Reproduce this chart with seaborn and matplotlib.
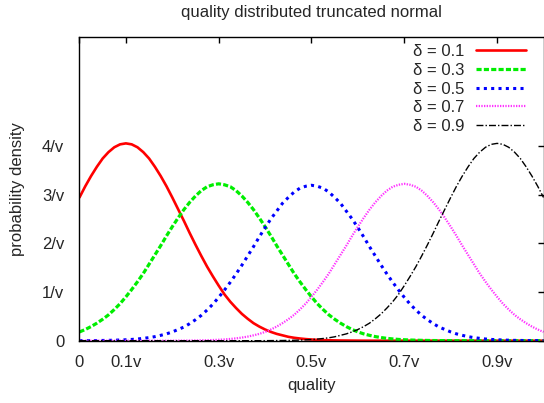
import numpy as np
import pandas as pd
import matplotlib
matplotlib.use('Agg')
import matplotlib.pyplot as plt
import seaborn as sns

# quality grid (fraction of v) and densities
quality = [0.0000, 0.0125, 0.0250, 0.0375, 0.0500, 0.0625, 0.0750, 0.0875, 0.1000,
           0.1125, 0.1250, 0.1375, 0.1500, 0.1625, 0.1750, 0.1875, 0.2000,
           0.2125, 0.2250, 0.2375, 0.2500, 0.2625, 0.2750, 0.2875, 0.3000,
           0.3125, 0.3250, 0.3375, 0.3500, 0.3625, 0.3750, 0.3875, 0.4000,
           0.4125, 0.4250, 0.4375, 0.4500, 0.4625, 0.4750, 0.4875, 0.5000,
           0.5125, 0.5250, 0.5375, 0.5500, 0.5625, 0.5750, 0.5875, 0.6000,
           0.6125, 0.6250, 0.6375, 0.6500, 0.6625, 0.6750, 0.6875, 0.7000,
           0.7125, 0.7250, 0.7375, 0.7500, 0.7625, 0.7750, 0.7875, 0.8000,
           0.8125, 0.8250, 0.8375, 0.8500, 0.8625, 0.8750, 0.8875, 0.9000,
           0.9125, 0.9250, 0.9375, 0.9500, 0.9625, 0.9750, 0.9875, 1.0000]

dens_01 = [2.94, 3.17, 3.38, 3.57, 3.74, 3.87, 3.97, 4.03, 4.05,
           4.03, 3.97, 3.87, 3.74, 3.57, 3.38, 3.17, 2.94,
           2.70, 2.46, 2.21, 1.97, 1.74, 1.52, 1.32, 1.13,
           0.95, 0.80, 0.67, 0.55, 0.45, 0.36, 0.29, 0.23,
           0.18, 0.14, 0.11, 0.080, 0.060, 0.045, 0.033, 0.024,
           0.017, 0.012, 0.009, 0.006, 0.004, 0.003, 0.002, 0.001,
           0, 0, 0, 0, 0, 0, 0, 0,
           0, 0, 0, 0, 0, 0, 0, 0,
           0, 0, 0, 0, 0, 0, 0, 0,
           0, 0, 0, 0, 0, 0, 0, 0]
dens_03 = [0.18, 0.23, 0.29, 0.36, 0.44, 0.53, 0.64, 0.76, 0.90,
           1.05, 1.21, 1.38, 1.57, 1.76, 1.95, 2.15, 2.34,
           2.52, 2.69, 2.84, 2.97, 3.08, 3.16, 3.20, 3.22,
           3.20, 3.16, 3.08, 2.97, 2.84, 2.69, 2.52, 2.34,
           2.15, 1.95, 1.76, 1.57, 1.38, 1.21, 1.05, 0.90,
           0.76, 0.64, 0.53, 0.44, 0.36, 0.29, 0.23, 0.18,
           0.14, 0.11, 0.084, 0.064, 0.048, 0.036, 0.026, 0.019,
           0.014, 0.010, 0.007, 0.005, 0.003, 0.002, 0.002, 0.001,
           0, 0, 0, 0, 0, 0, 0, 0,
           0, 0, 0, 0, 0, 0, 0, 0]
dens_05 = [0.001, 0.002, 0.002, 0.003, 0.005, 0.007, 0.010, 0.014, 0.019,
           0.026, 0.035, 0.048, 0.063, 0.083, 0.11, 0.14, 0.18,
           0.23, 0.28, 0.35, 0.43, 0.52, 0.63, 0.75, 0.89,
           1.04, 1.20, 1.37, 1.55, 1.74, 1.93, 2.13, 2.32,
           2.50, 2.66, 2.82, 2.94, 3.05, 3.13, 3.17, 3.19,
           3.17, 3.13, 3.05, 2.94, 2.82, 2.66, 2.50, 2.32,
           2.13, 1.93, 1.74, 1.55, 1.37, 1.20, 1.04, 0.89,
           0.75, 0.63, 0.52, 0.43, 0.35, 0.28, 0.23, 0.18,
           0.14, 0.11, 0.083, 0.063, 0.048, 0.035, 0.026, 0.019,
           0.014, 0.010, 0.007, 0.005, 0.003, 0.002, 0.002, 0.001]
dens_07 = [0, 0, 0, 0, 0, 0, 0, 0, 0,
           0, 0, 0, 0, 0, 0, 0, 0.001,
           0.002, 0.002, 0.003, 0.005, 0.007, 0.010, 0.014, 0.019,
           0.026, 0.036, 0.048, 0.064, 0.084, 0.11, 0.14, 0.18,
           0.23, 0.29, 0.36, 0.44, 0.53, 0.64, 0.76, 0.90,
           1.05, 1.21, 1.38, 1.57, 1.76, 1.95, 2.15, 2.34,
           2.52, 2.69, 2.84, 2.97, 3.08, 3.16, 3.20, 3.22,
           3.20, 3.16, 3.08, 2.97, 2.84, 2.69, 2.52, 2.34,
           2.15, 1.95, 1.76, 1.57, 1.38, 1.21, 1.05, 0.90,
           0.76, 0.64, 0.53, 0.44, 0.36, 0.29, 0.23, 0.18]
dens_09 = [0, 0, 0, 0, 0, 0, 0, 0, 0,
           0, 0, 0, 0, 0, 0, 0, 0,
           0, 0, 0, 0, 0, 0, 0, 0,
           0, 0, 0, 0, 0, 0, 0, 0.001,
           0.002, 0.003, 0.004, 0.006, 0.009, 0.012, 0.017, 0.024,
           0.033, 0.045, 0.060, 0.080, 0.11, 0.14, 0.18, 0.23,
           0.29, 0.36, 0.45, 0.55, 0.67, 0.80, 0.95, 1.13,
           1.32, 1.52, 1.74, 1.97, 2.21, 2.46, 2.70, 2.94,
           3.17, 3.38, 3.57, 3.74, 3.87, 3.97, 4.03, 4.05,
           4.03, 3.97, 3.87, 3.74, 3.57, 3.38, 3.17, 2.94]

labels = ['δ = 0.1', 'δ = 0.3', 'δ = 0.5', 'δ = 0.7', 'δ = 0.9']
series = [dens_01, dens_03, dens_05, dens_07, dens_09]
colors = ['#ff0000', '#00ee00', '#0000ff', '#ff33ff', '#000000']
widths = [1.9, 2.3, 2.2, 1.6, 1.0]
dash_styles = [None, (1.6, 0.7), (1, 1.4), (0.6, 0.6), (5, 1.5, 1, 1.5)]

xtick_pos = [0, 0.1, 0.3, 0.5, 0.7, 0.9]
xtick_lab = ['0', '0.1v', '0.3v', '0.5v', '0.7v', '0.9v']
ytick_pos = [0, 1, 2, 3, 4]
ytick_lab = ['0', '1/v', '2/v', '3/v', '4/v']

sns.set_style('white')
plt.rcParams['font.family'] = ['Liberation Sans', 'DejaVu Sans']
plt.rcParams['font.size'] = 12

fig = plt.figure(figsize=(5.44, 4.03), dpi=100)
ax = fig.add_axes([0.1461, 0.1546, 0.853, 0.7544])

for y, lab, c, w, d in zip(series, labels, colors, widths, dash_styles):
    sns.lineplot(x=quality, y=y, ax=ax, color=c, lw=w, label=lab)
    if d is not None:
        ax.lines[-1].set_dashes(d)

ax.set_xlim(0, 1.0)
ax.set_ylim(0, 6.24)
ax.set_xticks(xtick_pos)
ax.set_xticklabels(xtick_lab)
ax.set_yticks(ytick_pos)
ax.set_yticklabels(ytick_lab)
ax.tick_params(direction='in', length=4, width=1, top=True, right=True,
               color='black', labelsize=12)
ax.tick_params(axis='x', pad=10)
ax.tick_params(axis='y', pad=11)
for s in ax.spines.values():
    s.set_color('black')
    s.set_linewidth(1.0)

ax.set_xlabel('quality', fontsize=12, labelpad=6)
ax.set_ylabel('probability density', fontsize=12, labelpad=12)
ax.set_title('quality distributed truncated normal', fontsize=12, pad=14)

ax.legend(loc='upper right', bbox_to_anchor=(0.962, 0.975), frameon=False,
          markerfirst=False, borderpad=0, borderaxespad=0, labelspacing=0.22,
          handlelength=3.0, handletextpad=0.7, fontsize=12)

fig.savefig('out.png', dpi=100)
